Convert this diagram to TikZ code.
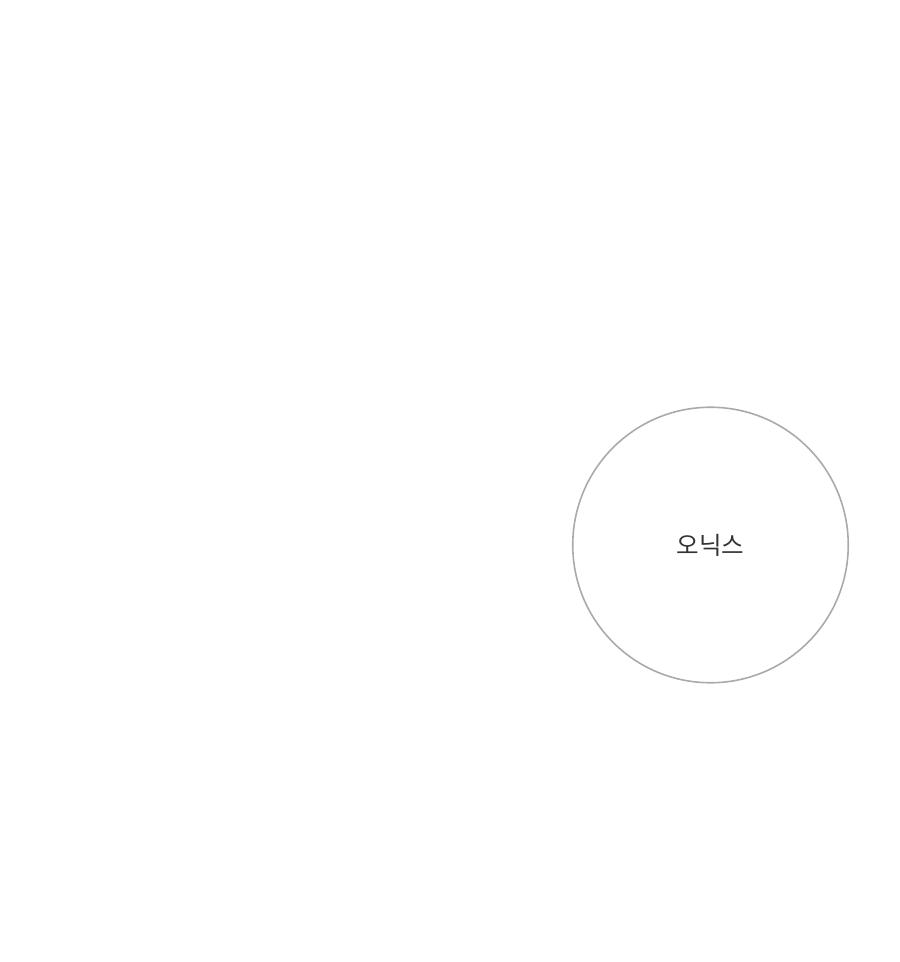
\documentclass[tikz,border=0pt]{standalone}
\usepackage{fontspec}
\usepackage{xcolor}
\usepackage{tikz}
\newfontfamily\kofont{Noto Sans CJK KR}
\definecolor{ringgray}{HTML}{AAAAAA}
\definecolor{labelgray}{HTML}{333333}

\begin{document}
\begin{tikzpicture}[x=1pt,y=1pt]
				\useasboundingbox (0,0) rectangle (900,962);
				\node[circle, draw=ringgray, line width=1.6pt, minimum size=275.5pt, inner sep=0pt, text=labelgray, font=\kofont\fontsize{24.5}{28}\selectfont] (onyx) at (710.5,417) {오닉스};
			\end{tikzpicture}
\end{document}
